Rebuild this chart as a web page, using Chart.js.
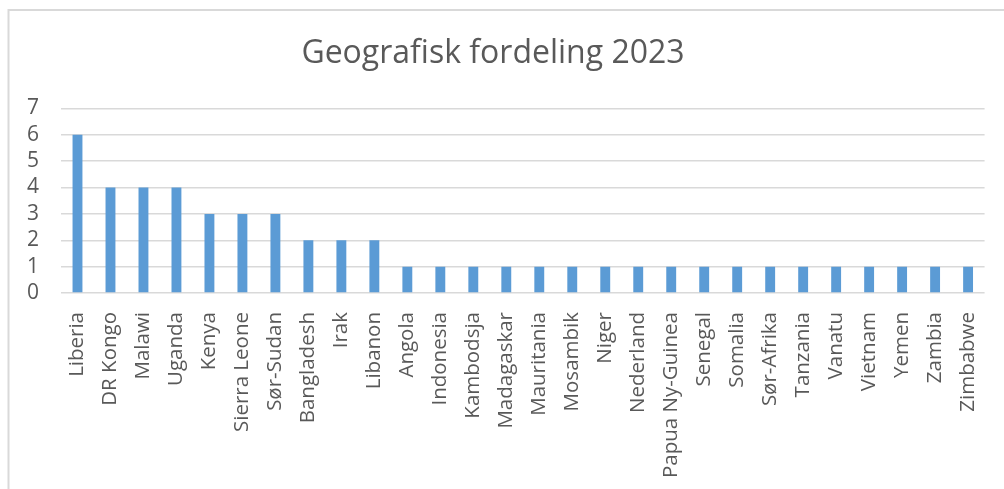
<!DOCTYPE html>
<html>
<head>
<meta charset="utf-8">
<script src="https://cdn.jsdelivr.net/npm/chart.js@4"></script>
<style>
  body { margin: 0; background: #fff; }
</style>
</head>
<body>
<canvas id="chart" width="1004" height="489"></canvas>
<script>
// countries and number of projects
const countries = ['Liberia', 'DR Kongo', 'Malawi', 'Uganda', 'Kenya', 'Sierra Leone', 'Sør-Sudan',
  'Bangladesh', 'Irak', 'Libanon', 'Angola', 'Indonesia', 'Kambodsja', 'Madagaskar', 'Mauritania',
  'Mosambik', 'Niger', 'Nederland', 'Papua Ny-Guinea', 'Senegal', 'Somalia', 'Sør-Afrika',
  'Tanzania', 'Vanatu', 'Vietnam', 'Yemen', 'Zambia', 'Zimbabwe'];
const counts = [6, 4, 4, 4, 3, 3, 3, 2, 2, 2, 1, 1, 1, 1, 1, 1, 1, 1, 1, 1, 1, 1, 1, 1, 1, 1, 1, 1];
const yTicks = [0, 1, 2, 3, 4, 5, 6, 7];

const textColor = '#595959';
const gridColor = '#d9d9d9';

// light frame around the chart, like the office chart border
const frame = {
  id: 'frame',
  beforeDraw(chart) {
    const ctx = chart.ctx;
    ctx.save();
    ctx.fillStyle = '#fff';
    ctx.fillRect(0, 0, chart.width, chart.height);
    ctx.strokeStyle = gridColor;
    ctx.lineWidth = 2;
    ctx.beginPath();
    ctx.moveTo(8.5, chart.height);
    ctx.lineTo(8.5, 10);
    ctx.lineTo(chart.width, 10);
    ctx.stroke();
    ctx.restore();
  }
};

new Chart(document.getElementById('chart'), {
  type: 'bar',
  data: {
    labels: countries,
    datasets: [{
      data: counts,
      backgroundColor: '#5b9bd5',
      barPercentage: 0.3,
      categoryPercentage: 1
    }]
  },
  options: {
    responsive: false,
    animation: false,
    layout: { padding: { left: 0, right: 18, top: 0, bottom: 0 } },
    plugins: {
      legend: { display: false },
      tooltip: { enabled: false },
      title: {
        display: true,
        text: 'Geografisk fordeling 2023',
        color: textColor,
        font: { family: 'Open Sans', size: 32, weight: 'normal', lineHeight: 1.2 },
        padding: { top: 35, bottom: 35 }
      }
    },
    scales: {
      x: {
        grid: { display: false },
        border: { display: false },
        ticks: {
          autoSkip: false,
          maxRotation: 90,
          minRotation: 90,
          padding: 11,
          color: textColor,
          font: { family: 'Open Sans', size: 20.5 }
        },
        afterFit(scale) { scale.height = 196; }
      },
      y: {
        min: 0,
        max: 7,
        afterBuildTicks(scale) { scale.ticks = yTicks.map(v => ({ value: v })); },
        grid: { color: gridColor, lineWidth: 1.5, drawTicks: false },
        border: { display: false },
        ticks: {
          autoSkip: false,
          stepSize: 1,
          padding: 22,
          color: textColor,
          font: { family: 'Open Sans', size: 21 }
        },
        afterFit(scale) { scale.width = 61; }
      }
    }
  },
  plugins: [frame]
});
</script>
</body>
</html>
